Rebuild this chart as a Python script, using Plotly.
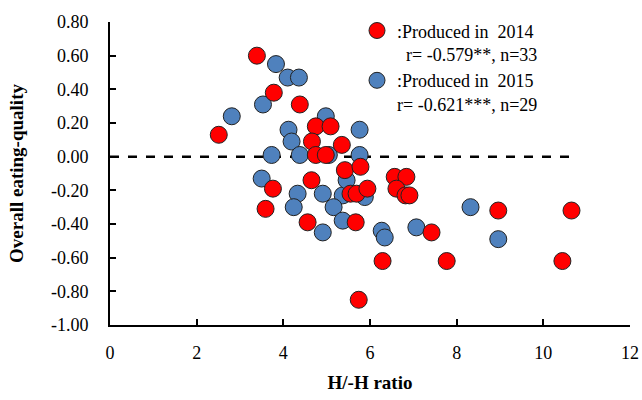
import plotly.graph_objects as go

# Produced in 2014 (red)
x2014 = [3.39, 3.78, 4.38, 2.51, 4.75, 5.09, 4.66, 4.75, 4.98, 5.35, 5.42, 5.78,
         4.65, 3.76, 3.59, 4.56, 5.55, 5.69, 5.94, 5.67, 6.57, 6.84, 6.61, 6.82,
         6.91, 8.96, 10.65, 7.42, 6.29, 7.77, 10.44, 5.74]
y2014 = [0.60, 0.38, 0.31, 0.13, 0.18, 0.18, 0.09, 0.01, 0.01, 0.07, -0.08, -0.06,
         -0.14, -0.19, -0.31, -0.39, -0.22, -0.22, -0.19, -0.39, -0.12, -0.12, -0.19, -0.23,
         -0.23, -0.32, -0.32, -0.45, -0.62, -0.62, -0.62, -0.85]

# Produced in 2015 (blue)
x2015 = [3.83, 4.10, 4.36, 3.53, 2.81, 4.98, 4.12, 4.19, 3.73, 4.38, 5.05, 5.76,
         5.76, 3.50, 4.33, 4.91, 5.37, 5.46, 5.88, 4.24, 5.16, 5.37, 4.91, 6.27,
         6.34, 7.07, 8.32, 8.96]
y2015 = [0.55, 0.47, 0.47, 0.31, 0.24, 0.24, 0.16, 0.09, 0.01, 0.01, 0.01, 0.16,
         0.01, -0.13, -0.22, -0.22, -0.23, -0.14, -0.24, -0.30, -0.30, -0.38, -0.45, -0.44,
         -0.48, -0.42, -0.30, -0.49]

NB = "\u00a0"
label2014 = f":Produced{NB}in{NB}{NB}2014<br>{NB}{NB}r={NB}-0.579**,{NB}n=33"
label2015 = f":Produced{NB}in{NB}{NB}2015<br>r={NB}-0.621***,{NB}n=29"

xticks = [0, 2, 4, 6, 8, 10, 12]
yticks = [0.8, 0.6, 0.4, 0.2, 0.0, -0.2, -0.4, -0.6, -0.8, -1.0]

serif = "Liberation Serif, Times New Roman, serif"

fig = go.Figure()
fig.add_trace(go.Scatter(
    x=x2015, y=y2015, mode="markers", name=label2015, legendrank=2,
    marker=dict(size=17, color="#4F81BD", line=dict(color="#222222", width=1)),
))
fig.add_trace(go.Scatter(
    x=x2014, y=y2014, mode="markers", name=label2014, legendrank=1,
    marker=dict(size=17, color="#FF0000", line=dict(color="#222222", width=1)),
))

fig.add_shape(type="line", x0=0, x1=10.7, y0=0, y1=0, xref="x", yref="y",
              line=dict(color="black", width=2.5, dash="dash"), layer="below")

fig.update_layout(
    width=642, height=400,
    margin=dict(l=110, r=12, t=15, b=75),
    paper_bgcolor="white", plot_bgcolor="white",
    font=dict(family=serif, size=18, color="black"),
    showlegend=True,
    legend=dict(x=0.475, y=1.032, xanchor="left", yanchor="top",
                font=dict(family=serif, size=18), valign="top",
                bgcolor="rgba(0,0,0,0)", tracegroupgap=4, itemwidth=30),
    xaxis=dict(range=[0, 12], tickvals=xticks, ticktext=[str(v) for v in xticks],
               showgrid=False, zeroline=False, showline=True, linecolor="black",
               linewidth=2, ticks="inside", ticklen=6, tickwidth=1.5, tickcolor="black",
               title=dict(text="<b>H/-H ratio</b>", font=dict(size=19), standoff=14),
               ticklabelstandoff=10, automargin=False),
    yaxis=dict(range=[-1.0, 0.8], tickvals=yticks, ticktext=[f"{v:.2f}" for v in yticks],
               showgrid=False, zeroline=False, showline=True, linecolor="black",
               linewidth=2, ticks="inside", ticklen=6, tickwidth=1.5, tickcolor="black",
               title=dict(text="<b>Overall eating-quality</b>", font=dict(size=19), standoff=22),
               ticklabelstandoff=16, automargin=False),
)

fig.write_html("out.html")
